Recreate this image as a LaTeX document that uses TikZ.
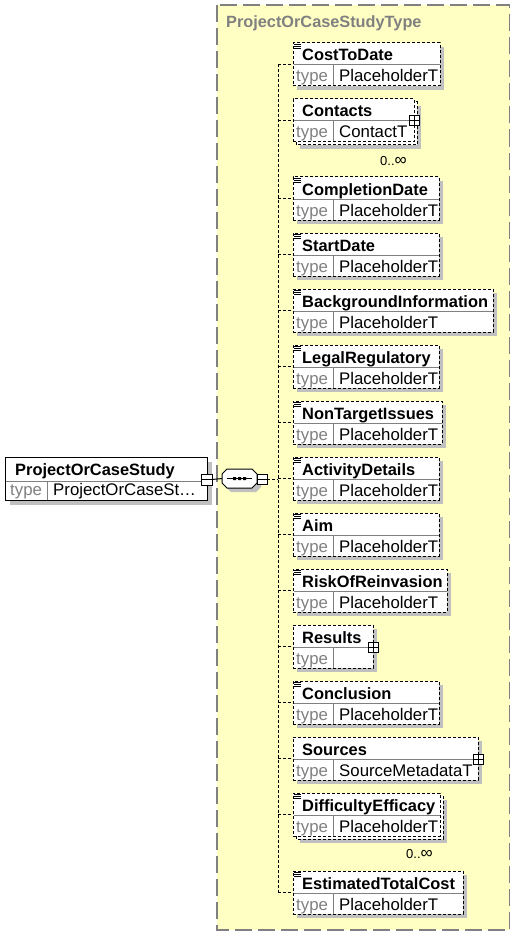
\documentclass[tikz,border=0pt]{standalone}
\usepackage{fontspec}
\setmainfont{Liberation Sans}
\usetikzlibrary{calc}
\definecolor{panelfill}{RGB}{255,255,196}
\definecolor{shadecol}{RGB}{192,192,192}
\definecolor{midgray}{RGB}{128,128,128}
\tikzset{
  cbox/.style={draw=black, fill=white, dash pattern=on 3pt off 2pt, line width=1pt,
    inner sep=0pt, outer sep=0pt, anchor=north west, minimum height=43pt},
  cback/.style={draw=black, fill=white, dash pattern=on 3pt off 2pt, line width=1pt},
  tbox/.style={draw=black, fill=white, line width=1pt, inner sep=0pt, outer sep=0pt,
    anchor=north west},
  divline/.style={draw=midgray, line width=1pt},
  nametext/.style={anchor=base west, inner sep=0pt, font=\fontsize{16.4}{18}\selectfont\bfseries},
  typelabel/.style={anchor=base west, inner sep=0pt, text=midgray, font=\fontsize{16.8}{18}\selectfont},
  typetext/.style={anchor=base west, inner sep=0pt, font=\fontsize{16.8}{18}\selectfont},
  multtext/.style={anchor=base west, inner sep=0pt, font=\fontsize{13}{16}\selectfont},
  titletext/.style={anchor=base west, inner sep=0pt, text=midgray, font=\fontsize{16.3}{18}\selectfont\bfseries},
  link/.style={draw=black, line width=1pt, dash pattern=on 3pt off 2pt},
  solidlink/.style={draw=black, line width=1pt},
  pmbox/.style={draw=black, fill=white, line width=1pt, inner sep=0pt, outer sep=0pt,
    minimum width=10pt, minimum height=10pt},
  panelbox/.style={draw=midgray, fill=panelfill, line width=1.2pt, dash pattern=on 17pt off 6pt},
}
\newcommand{\infsign}{{\fontsize{17}{18}\selectfont ∞}}
% #1 id, #2 top, #3 right, #4 name, #5 type
\newcommand{\boxbody}[5]{%
  \node[cbox, minimum width={(#3-293)*1pt}] (#1) at (293,#2) {};
  \draw[divline] (293.5,{#2+22}) -- ({#3-0.5},{#2+22});
  \draw[divline] (333,{#2+22}) -- (333,{#2+42.5});
  \node[nametext] (#1-name) at (302,{#2+18}) {#4};
  \node[typelabel] (#1-tl) at (296,{#2+39}) {type};
  \node[typetext] (#1-tv) at (339,{#2+39}) {#5};
  \coordinate (#1-j) at (278,{#2+21.5});
  \draw[link] (#1-j) -- (#1.west);
}
\newcommand{\childel}[5]{%
  \fill[shadecol] (297,{#2+4}) rectangle ({#3+4},{#2+47});
  \boxbody{#1}{#2}{#3}{#4}{#5}%
}
\newcommand{\childstack}[5]{%
  \fill[shadecol] (300,{#2+7}) rectangle ({#3+7},{#2+50});
  \draw[cback] (296,{#2+3}) rectangle ({#3+3},{#2+46});
  \boxbody{#1}{#2}{#3}{#4}{#5}%
}
\newcommand{\docicon}[1]{%
  \draw[line width=0.9pt] (293.8,{#1+1.6}) -- (300.6,{#1+1.6})
    (293.8,{#1+3.6}) -- (300.6,{#1+3.6}) (293.8,{#1+5.6}) -- (300.6,{#1+5.6});
}
\newcommand{\plusmark}[3]{% id x y
  \node[pmbox] (#1-plus) at (#2,#3) {};
  \draw[line width=1pt] (#1-plus.north) -- (#1-plus.south) (#1-plus.west) -- (#1-plus.east);
}
\begin{document}
\begin{tikzpicture}[x=1pt,y=-1pt]
\useasboundingbox (0,0) rectangle (528,936);
% panel
\draw[panelbox] (217,5) rectangle (509.5,930);
\node[titletext] (title) at (226,28) {ProjectOrCaseStudyType};

% root element
\fill[shadecol] (10,462) rectangle (212,505);
\node[tbox, minimum width=202pt, minimum height=43pt] (root) at (5,457) {};
\draw[divline] (5.5,481) -- (206.5,481);
\draw[divline] (47,481) -- (47,499.5);
\node[nametext] (root-name) at (15,475) {ProjectOrCaseStudy};
\node[typelabel] (root-tl) at (10,495) {type};
\node[typetext] (root-tv) at (53,495) {ProjectOrCaseSt…};

% sequence compositor
\node[inner sep=0pt, outer sep=0pt, minimum width=35pt, minimum height=19pt] (seq) at (239.5,478.5) {};
\fill[shadecol] (231,473) -- (256,473) -- (261,478) -- (261,487) -- (256,492) -- (231,492) -- (226,487) -- (226,478) -- cycle;
\draw[fill=white, line width=1pt] (227,469) -- (252,469) -- (257,474) -- (257,483) -- (252,488) -- (227,488) -- (222,483) -- (222,474) -- cycle;
\draw[line width=1pt] (227,478.5) -- (252,478.5);
\fill (233,477) rectangle (236,480) (238,477) rectangle (241,480) (243,477) rectangle (246,480);

% minus connectors
\node[pmbox, minimum width=11pt, minimum height=11pt] (rootm) at (206.5,479.5) {};
\draw[line width=1pt] (rootm.west) -- (rootm.east);
\node[pmbox] (seqm) at (262,479) {};
\draw[line width=1pt] (seqm.west) -- (seqm.east);
\draw[solidlink] (rootm.east) -- (seq.west);
\coordinate (trunkmid) at (278,479);
\draw[link] (seqm.east) -- (trunkmid);

% children
\childel{c1}{43}{440}{CostToDate}{PlaceholderT}
\docicon{43}
\childstack{c2}{99}{414}{Contacts}{ContactT}
\plusmark{c2}{414}{121}
\node[multtext] (c2-mult) at (380,166) {0..\infsign};
\childel{c3}{177}{439}{CompletionDate}{PlaceholderT}
\docicon{177}
\childel{c4}{233}{439}{StartDate}{PlaceholderT}
\docicon{233}
\childel{c5}{289}{493}{BackgroundInformation}{PlaceholderT}
\docicon{289}
\childel{c6}{345}{439}{LegalRegulatory}{PlaceholderT}
\docicon{345}
\childel{c7}{401}{442}{NonTargetIssues}{PlaceholderT}
\docicon{401}
\childel{c8}{457}{439}{ActivityDetails}{PlaceholderT}
\docicon{457}
\childel{c9}{513}{439}{Aim}{PlaceholderT}
\docicon{513}
\childel{c10}{569}{447}{RiskOfReinvasion}{PlaceholderT}
\docicon{569}
\childel{c11}{625}{373}{Results}{}
\plusmark{c11}{373}{647}
\childel{c12}{681}{439}{Conclusion}{PlaceholderT}
\docicon{681}
\childel{c13}{737}{478}{Sources}{SourceMetadataT}
\plusmark{c13}{478}{759}
\childstack{c14}{793}{440}{DifficultyEfficacy}{PlaceholderT}
\docicon{793}
\node[multtext] (c14-mult) at (406,858) {0..\infsign};
\childel{c15}{871}{463}{EstimatedTotalCost}{PlaceholderT}
\docicon{871}

% trunk
\draw[link] (c1-j) -- (c15-j);
\end{tikzpicture}
\end{document}
